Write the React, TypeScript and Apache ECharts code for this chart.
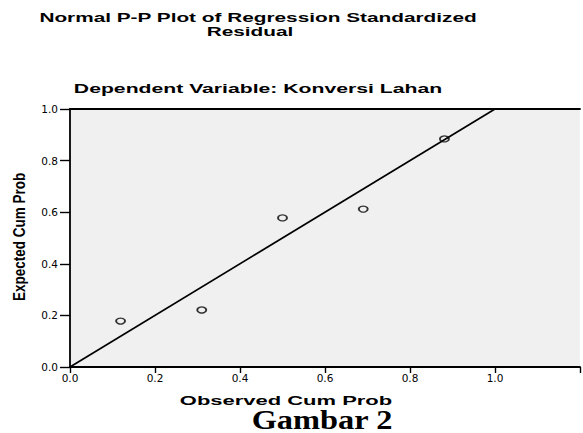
import React, { useEffect, useRef } from "react";
import * as echarts from "echarts";

// Observed cumulative probability (x) and expected cumulative probability (y)
const observedCumProb = [0.119, 0.31, 0.5, 0.69, 0.881];
const expectedCumProb = [0.178, 0.221, 0.578, 0.612, 0.884];
// Reference diagonal endpoints
const diagonal = [0, 1];

const titleLines = ["Normal P-P Plot of Regression Standardized", "Residual"];
const subtitle = "Dependent Variable: Konversi Lahan";
const xName = "Observed Cum Prob";
const yName = "Expected Cum Prob";
const caption = "Gambar 2";

export default function App() {
  const ref = useRef<HTMLDivElement>(null);
  useEffect(() => {
    const chart = echarts.init(ref.current!, null, { renderer: "svg" });
    const sans = "'Liberation Sans', Arial, sans-serif";
    chart.setOption({
      animation: false,
      backgroundColor: "#ffffff",
      grid: {
        left: 70,
        top: 109,
        right: 0,
        bottom: 66,
        show: true,
        backgroundColor: "#F0F0F0",
        borderWidth: 0,
      },
      xAxis: [
        {
          type: "value",
          min: 0,
          max: 1.2,
          interval: 0.2,
          position: "bottom",
          axisLine: { show: true, onZero: false, lineStyle: { color: "#000", width: 1.8 } },
          axisTick: { show: true, length: 6, lineStyle: { color: "#000", width: 1.4 } },
          axisLabel: {
            color: "#000",
            fontFamily: "'DejaVu Sans', sans-serif",
            fontSize: 10.5,
            margin: 5,
            formatter: (v: number) => (v > 1.05 ? "" : v.toFixed(1)),
          },
          splitLine: { show: false },
        },
        {
          type: "value",
          min: 0,
          max: 1.2,
          position: "top",
          axisLine: { show: true, onZero: false, lineStyle: { color: "#000", width: 1.8 } },
          axisTick: { show: false },
          axisLabel: { show: false },
          splitLine: { show: false },
        },
      ],
      yAxis: {
        type: "value",
        min: 0,
        max: 1,
        interval: 0.2,
        axisLine: { show: true, onZero: false, lineStyle: { color: "#000", width: 1.8 } },
        axisTick: { show: true, length: 10, lineStyle: { color: "#000", width: 1.4 } },
        axisLabel: {
          color: "#000",
          fontFamily: "'DejaVu Sans', sans-serif",
          fontSize: 10.5,
          margin: 12,
          formatter: (v: number) => v.toFixed(1),
        },
        splitLine: { show: false },
      },
      series: [
        {
          type: "line",
          data: diagonal.map((d) => [d, d]),
          symbol: "none",
          silent: true,
          lineStyle: { color: "#000", width: 1.7 },
        },
        {
          type: "scatter",
          data: observedCumProb.map((x, i) => [x, expectedCumProb[i]]),
          symbol: "circle",
          symbolSize: [9, 6],
          itemStyle: { color: "rgba(0,0,0,0)", borderColor: "#000", borderWidth: 1.6 },
        },
      ],
      graphic: [
        {
          type: "text",
          x: 258,
          y: 17.5,
          scaleX: 1.6,
          style: {
            text: titleLines[0],
            font: `bold 13px ${sans}`,
            fill: "#000",
            align: "center",
            verticalAlign: "middle",
          },
        },
        {
          type: "text",
          x: 250,
          y: 31.5,
          scaleX: 1.6,
          style: {
            text: titleLines[1],
            font: `bold 13px ${sans}`,
            fill: "#000",
            align: "center",
            verticalAlign: "middle",
          },
        },
        {
          type: "text",
          x: 258,
          y: 88,
          scaleX: 1.57,
          style: {
            text: subtitle,
            font: `bold 13.5px ${sans}`,
            fill: "#000",
            align: "center",
            verticalAlign: "middle",
          },
        },
        {
          type: "text",
          x: 286,
          y: 400.5,
          scaleX: 1.69,
          style: {
            text: xName,
            font: `bold 13px ${sans}`,
            fill: "#000",
            align: "center",
            verticalAlign: "middle",
          },
        },
        {
          type: "text",
          x: 20,
          y: 237,
          rotation: Math.PI / 2,
          scaleY: 1.2,
          style: {
            text: yName,
            font: `bold 13.5px ${sans}`,
            fill: "#000",
            align: "center",
            verticalAlign: "middle",
          },
        },
        {
          type: "text",
          x: 322,
          y: 419,
          scaleX: 1.2,
          style: {
            text: caption,
            font: `bold 27px 'Liberation Serif', 'Times New Roman', serif`,
            fill: "#000",
            align: "center",
            verticalAlign: "middle",
          },
        },
      ],
    });
    return () => chart.dispose();
  }, []);
  return (
    <div
      ref={ref}
      style={{ position: "fixed", left: 0, top: 0, width: 583, height: 433, background: "#fff" }}
    />
  );
}
